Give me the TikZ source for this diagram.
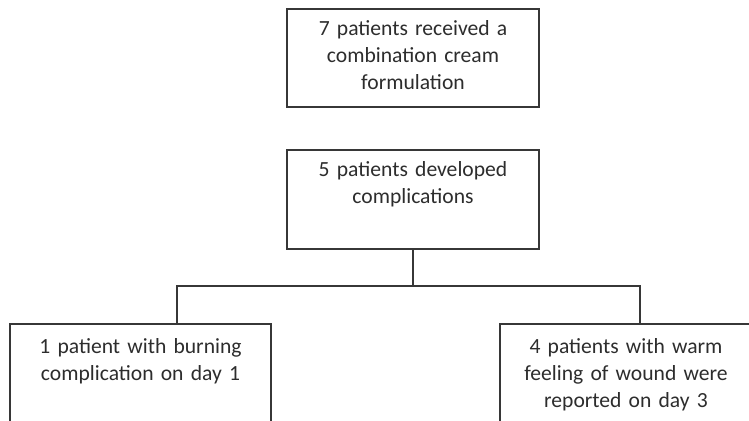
\documentclass[tikz,border=0pt]{standalone}
\usepackage{fontspec}
\setmainfont{Carlito}
\usetikzlibrary{positioning,calc}
\definecolor{edge}{RGB}{55,55,55}
\definecolor{ink}{RGB}{45,45,45}
\tikzset{
  box/.style={draw=edge,line width=1pt,text=ink,text width=#1,align=center,
    anchor=north,inner xsep=4pt,inner ysep=0pt,
    font=\fontsize{10.8}{13.5}\selectfont},
  box/.default=118pt,
  link/.style={draw=edge,line width=0.8pt},
}

\begin{document}
\begin{tikzpicture}[x=0.5pt,y=-0.5pt]
    \fill[white] (0,0) rectangle (749,421);
    \clip (0,0) rectangle (749,421);
    % boxes
    \node[box,text height=13.5pt,text depth=35.5pt] (treated) at (413,8)
      {7 patients received a\\combination cream\\formulation};
    \node[box,text height=13.5pt,text depth=36pt] (compl) at (413,149)
      {5 patients developed\\complications};
    \node[box=122.5pt,text height=15pt,text depth=45pt] (burn) at (140.5,323)
      {1 patient with burning\\complication on day 1};
    \node[box,text height=15pt,text depth=45pt] (warm) at (626,323)
      {4 patients with warm\\feeling of wound were\\reported on day 3};
    % branches
    \coordinate (jl) at (177,286);
    \coordinate (jr) at (640,286);
    \draw[link] (compl.south) -- (compl.south |- jl);
    \draw[link] (burn.north -| jl) -- (jl) -- (jr) -- (warm.north -| jr);
\end{tikzpicture}
\end{document}
